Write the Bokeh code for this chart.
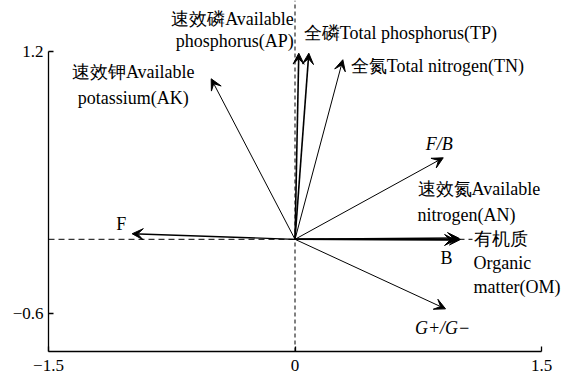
from bokeh.plotting import figure
from bokeh.models import Arrow, VeeHead, ColumnDataSource, FixedTicker
from bokeh.core.properties import value
from bokeh.embed import file_html
from bokeh.resources import INLINE

# ---------------- data ----------------
NAMES = ["AK", "AP", "TP", "TN", "F/B", "AN", "OM", "B", "F", "G+/G-"]
END_X = [-0.510, 0.023, 0.084, 0.291, 0.902, 0.995, 1.007, 0.977, -0.991, 0.916]
END_Y = [1.013, 1.189, 1.189, 1.144, 0.470, -0.081, -0.091, -0.095, -0.052, -0.568]
ORIGIN_X = 0.0
ORIGIN_Y = -0.09
LABELS = [
    "速效钾Available\npotassium(AK)",
    "速效磷Available\nphosphorus(AP)",
    "全磷Total phosphorus(TP)",
    "全氮Total nitrogen(TN)",
    "F/B",
    "速效氮Available\nnitrogen(AN)",
    "有机质\nOrganic\nmatter(OM)",
    "B",
    "F",
    "G+/G−",
]
X_TICKS = [-1.5, 0, 1.5]
Y_TICKS = [-0.6, 1.2]
X_TICK_LABELS = ["−1.5", "0", "1.5"]
Y_TICK_LABELS = ["−0.6", "1.2"]
X_AXIS_SPAN = (-1.5, 1.5)
X_RANGE = (-1.5, 1.652)
Y_RANGE = (-0.861, 1.551)
Y_AXIS_TOP = 1.2
H_DASH_END = 1.08

# ---------------- styles (pixel offsets, alignment, widths) ----------------
STYLE = {
    "AK":    dict(dx=-78, dy=6,   align="center", lh=1.3,  italic=False, lw=1.0, fs=18),
    "AP":    dict(dx=-5,  dy=-23, align="right",  lh=1.09, italic=False, lw=1.6, fs=18),
    "TP":    dict(dx=-5,  dy=-20, align="left",   lh=1.2,  italic=False, lw=1.6, fs=18),
    "TN":    dict(dx=8,   dy=6,   align="left",   lh=1.2,  italic=False, lw=1.0, fs=18),
    "F/B":   dict(dx=-4,  dy=-14, align="center", lh=1.2,  italic=True,  lw=1.0, fs=18),
    "AN":    dict(dx=-41, dy=-36, align="left",   lh=1.27, italic=False, lw=1.6, fs=18),
    "OM":    dict(dx=13,  dy=24,  align="left",   lh=1.2,  italic=False, lw=1.6, fs=18),
    "B":     dict(dx=-9,  dy=18,  align="center", lh=1.2,  italic=False, lw=1.6, fs=18),
    "F":     dict(dx=-11, dy=-10, align="center", lh=1.2,  italic=False, lw=1.3, fs=18),
    "G+/G-": dict(dx=-3,  dy=19,  align="center", lh=1.2,  italic=True,  lw=1.0, fs=18),
}
FONT = "serif"

p = figure(width=566, height=379, output_backend="svg", toolbar_location=None,
           x_range=X_RANGE, y_range=Y_RANGE,
           min_border_left=48, min_border_right=0, min_border_top=0, min_border_bottom=28)
p.outline_line_color = None
p.grid.visible = False
p.background_fill_color = "white"
p.border_fill_color = "white"

# reference dashed lines through the origin
p.segment(x0=[X_RANGE[0]], y0=[ORIGIN_Y], x1=[H_DASH_END], y1=[ORIGIN_Y],
          line_color="black", line_width=1, line_dash="6 4")
p.segment(x0=[ORIGIN_X], y0=[Y_RANGE[0]], x1=[ORIGIN_X], y1=[Y_RANGE[1]],
          line_color="black", line_width=1, line_dash="4 3")

# arrows and labels
for name, ex, ey, lab in zip(NAMES, END_X, END_Y, LABELS):
    st = STYLE[name]
    src = ColumnDataSource(dict(x0=[ORIGIN_X], y0=[ORIGIN_Y], x1=[ex], y1=[ey]))
    p.add_layout(Arrow(x_start="x0", y_start="y0", x_end="x1", y_end="y1", source=src,
                       line_color="black", line_width=st["lw"],
                       end=VeeHead(size=11, fill_color="black", line_color="black", line_width=1)))
    p.text(x=[ex], y=[ey], text=[lab], x_offset=st["dx"], y_offset=st["dy"],
           text_align=st["align"], text_baseline="middle",
           text_font=value(FONT), text_font_size=f"{st['fs']}px",
           text_font_style="italic" if st["italic"] else "normal",
           text_line_height=st["lh"], text_color="black")

# axes
for ax, ticks, labs in ((p.xaxis[0], X_TICKS, X_TICK_LABELS), (p.yaxis[0], Y_TICKS, Y_TICK_LABELS)):
    ax.ticker = FixedTicker(ticks=ticks)
    ax.major_label_overrides = {t: l for t, l in zip(ticks, labs)}
    ax.major_tick_in = 5
    ax.major_tick_out = 0
    ax.minor_tick_line_color = None
    ax.axis_line_width = 1.3
    ax.major_tick_line_width = 1.3
    ax.axis_line_color = "black"
    ax.major_tick_line_color = "black"
    ax.major_label_text_font = FONT
    ax.major_label_text_font_size = "17px"
    ax.major_label_text_color = "black"
p.xaxis.major_label_standoff = 8
p.yaxis.major_label_standoff = 5
p.xaxis.bounds = X_AXIS_SPAN
p.yaxis.bounds = (Y_RANGE[0], Y_AXIS_TOP)

open("out.html", "w").write(file_html(p, INLINE))
